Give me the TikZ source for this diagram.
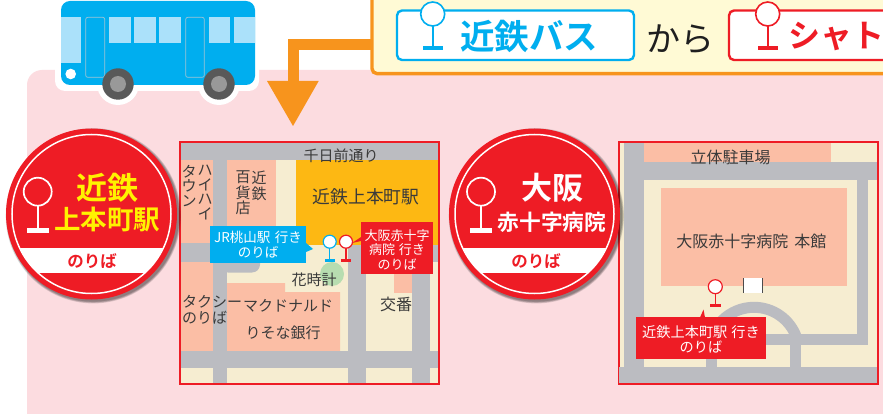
\documentclass[tikz,border=0pt]{standalone}
\usepackage{fontspec}
\newfontfamily\jp{Noto Sans CJK JP}
\newfontfamily\jpb{Noto Sans CJK JP Bold}
\definecolor{pinkbg}{HTML}{FCDCE0}
\definecolor{road}{HTML}{BBBCC1}
\definecolor{cream}{HTML}{F6EDD1}
\definecolor{salmon}{HTML}{FBBEA5}
\definecolor{station}{HTML}{FDB813}
\definecolor{busblue}{HTML}{00AEEF}
\definecolor{winblue}{HTML}{ABE1FA}
\definecolor{stopred}{HTML}{EE1C25}
\definecolor{orangeline}{HTML}{F7941D}
\definecolor{notebg}{HTML}{FFFAD5}
\definecolor{inktext}{HTML}{3A3A3A}
\definecolor{yellowtext}{HTML}{FFF200}
\definecolor{clockgreen}{HTML}{B7DDB0}
\newcommand{\sz}[1]{\fontsize{#1}{#1}\selectfont}
\tikzset{
  x=1pt,y=-1pt,
  mapframe/.style={draw=stopred,line width=2pt,fill=cream},
  roadfill/.style={fill=road},
  salmonfill/.style={fill=salmon},
  maptext/.style={inner sep=0pt,text=inktext,font=\jp\fontsize{15}{16}\selectfont,align=center},
  tagtext/.style={inner sep=0pt,text=white,font=\jp\fontsize{13.5}{15}\selectfont,align=center},
  window/.style={fill=winblue},
  doorbox/.style={draw=winblue!70!gray,line width=.7pt,fill=busblue,rounded corners=2pt},
  labelbox/.style={fill=white,line width=2.4pt,rounded corners=5pt},
}
\newcommand{\stopicon}[9]{%
  \draw[#4,line width=#6pt] (#1,#2+#3) -- (#1,#8);
  \fill[#4] (#1-#7,#8-#9/2) rectangle (#1+#7,#8+#9/2);
  \draw[#4,line width=#6pt,fill=#5] (#1,#2) circle[radius=#3pt];
}
\newcommand{\signdisc}[1]{%
  \foreach \rr in {87.6,87,86.4,85.8} \fill[black,opacity=.13] (#1+1.8,215.8) circle[radius=\rr pt];
  \fill[stopred] (#1,214) circle[radius=85.5pt];
  \begin{scope}
    \clip (#1,214) circle[radius=79.5pt];
    \fill[white] (#1-90,248) rectangle (#1+90,273);
  \end{scope}
  \draw[white,line width=1.5pt] (#1,214) circle[radius=79.5pt];
}
\begin{document}
\begin{tikzpicture}
\useasboundingbox (0,0) rectangle (883,414);
\fill[white] (0,0) rectangle (883,414);
\fill[pinkbg,rounded corners=15pt] (27,70) -- (27,430) -- (900,430) -- (900,70) -- cycle;

% bus
\fill[white,rounded corners=10pt] (55,-20) rectangle (259,91);
\foreach \wx in {118,219} \fill[white] (\wx,84) circle[radius=21pt];
\fill[busblue,rounded corners=9pt] (61,1) rectangle (255,85);
\fill[window] (61,17.3) rectangle (81,62.7);
\foreach \a/\b in {109/131,134.3/155.7,159/181,209/230.3,234.3/255}
  \fill[window] (\a,17.3) rectangle (\b,43);
\draw[doorbox] (85.7,17.3) rectangle (104.7,77.3);
\draw[doorbox] (185.7,17.3) rectangle (204.3,77.3);
\fill[white] (70.7,74) circle[radius=5.3pt];
\foreach \wx in {118,219} {
  \fill[black!65!white] (\wx,84) circle[radius=15.7pt];
  \fill[black!40!white] (\wx,84) circle[radius=8pt];
}

% notice box and its arrow
\draw[orangeline,fill=notebg,line width=3.4pt,rounded corners=5pt] (372,-20) rectangle (920,73.6);
\coordinate (noticeport) at (370.5,44.5);
\coordinate (arrowtop) at (293,82);
\draw[orangeline,line width=11pt] (noticeport) -| (arrowtop);
\fill[orangeline] (267,81) -- (318.7,81) -- (293,126) -- cycle;

% bus company label
\draw[busblue,labelbox] (397,10.5) rectangle (634,60);
\stopicon{432.7}{14}{12}{busblue}{white}{1.6}{10}{48}{4}
\node[inner sep=0pt,text=busblue,font=\jpb\sz{34.5}] (kintetsubus) at (529,36) {近鉄バス};
\node[inner sep=0pt,text=black!88,font=\jp\sz{34}] (kara) at (680,39.5) {から};
\draw[stopred,labelbox] (729,10.5) rectangle (930,60);
\stopicon{767.7}{14}{12}{stopred}{white}{1.6}{10}{48}{4}
\node[inner sep=0pt,anchor=west,text=stopred,font=\jpb\sz{32}] (shuttle) at (788,36) {シャトル};

% map 1
\draw[mapframe] (180,142) rectangle (438.5,384);
\fill[salmonfill] (181,160) rectangle (213,243);
\fill[salmonfill] (227,160) rectangle (276,243);
\fill[station] (296,160) rectangle (437.5,245);
\fill[salmonfill] (181,262) rectangle (213,351);
\fill[salmonfill] (227,283) -- (285,283) -- (285,292) -- (340,292) -- (340,351) -- (227,351) -- cycle;
\fill[salmonfill] (394,262) rectangle (412,293);
\fill[roadfill] (181,143) rectangle (437.5,160);
\fill[roadfill] (213,160) rectangle (227,383);
\fill[roadfill] (181,243) rectangle (213,262);
\fill[roadfill,rounded corners=8pt] (220,243) -- (260,243) -- (260,272.5) -- (220,272.5) -- cycle;
\fill[roadfill] (348,245) rectangle (366,383);
\fill[roadfill] (412,245) rectangle (430,383);
\fill[roadfill] (348,245) rectangle (437.5,262);
\fill[roadfill] (181,351) rectangle (437.5,368);
\fill[clockgreen] (332,274) circle[radius=12pt];

\node[maptext] (sennichimae) at (341,156) {千日前通り};
\node[maptext,font=\jp\fontsize{17.8}{18}\selectfont] (stationname) at (366,197) {近鉄上本町駅};
\node[maptext,font=\jp\fontsize{15}{14.5}\selectfont,anchor=north] (haihai) at (205,165) {ハ\\イ\\ハ\\イ};
\node[maptext,font=\jp\fontsize{15}{14.5}\selectfont,anchor=north] (town) at (189,165) {タ\\ウ\\ン};
\node[maptext,font=\jp\fontsize{15}{15.5}\selectfont,anchor=north] (kin) at (259,171) {近\\鉄};
\node[maptext,font=\jp\fontsize{15}{15.5}\selectfont,anchor=north] (dept) at (243,171) {百\\貨\\店};
\node[maptext,anchor=north west,align=left] (taxi) at (182,295) {タクシー\\のりば};
\node[maptext] (mcd) at (288,306) {マクドナルド};
\node[maptext] (resona) at (283,333) {りそな銀行};
\node[maptext] (clock) at (314,280) {花時計};
\node[maptext,font=\jp\sz{16}] (koban) at (396,304) {交番};

\fill[busblue] (306,243) -- (313,249) -- (306,252) -- cycle;
\fill[stopred] (361,237) -- (352,243) -- (361,241) -- cycle;
\stopicon{329.7}{241.7}{6.5}{busblue}{white}{1.2}{5}{260.5}{3}
\stopicon{346}{241.7}{6.5}{stopred}{white}{1.2}{5}{260.5}{3}
\node[fill=busblue,minimum width=96pt,minimum height=37pt,tagtext] (bluetag) at (258,244.5) {};
\node[tagtext] (bluetagtext) at (258,244.5) {JR桃山駅\kern4.5pt 行き\\のりば};
\node[fill=stopred,minimum width=72pt,minimum height=52pt,tagtext] (redtag) at (397,248) {};
\node[tagtext,font=\jp\fontsize{13}{14.5}\selectfont] (redtagtext) at (397,249.5) {大阪赤十字\\病院\kern4pt 行き\\のりば};

% map 2
\draw[mapframe] (618.5,142) rectangle (878,384);
\fill[salmonfill] (644,143) rectangle (831,162);
\fill[roadfill] (624,143) rectangle (644,368);
\fill[roadfill] (624,162) rectangle (877,180);
\fill[roadfill] (857,180) rectangle (868,345);
\fill[salmonfill] (661,188) rectangle (847,286);
\draw[road,line width=11pt] (709,352.3) arc[start angle=180,end angle=340,radius=45];
\fill[roadfill] (705.7,350) rectangle (716.7,368);
\fill[roadfill] (765,334) rectangle (868,345);
\fill[roadfill] (790,345) rectangle (801,368);
\fill[roadfill] (619,367) rectangle (877,383);
\fill[white] (743,278) rectangle (763,293);
\draw[black!70,line width=1.5pt] (743.7,278) -- (743.7,293) (762.3,278) -- (762.3,293);

\node[maptext,font=\jp\sz{16}] (parking) at (730.7,157) {立体駐車場};
\node[maptext,font=\jp\sz{16}] (mainbldg) at (751.3,241.7) {大阪赤十字病院\kern6pt 本館};

\stopicon{715.3}{286.7}{7}{stopred}{white}{1.2}{5.5}{305.5}{3}
\fill[stopred] (700,317.5) -- (703.5,309.5) -- (705,317.5) -- cycle;
\node[fill=stopred,minimum width=130pt,minimum height=42pt,tagtext] (redtag2) at (701,338) {};
\node[tagtext,font=\jp\fontsize{14.2}{15}\selectfont] (redtag2text) at (701,339.5) {近鉄上本町駅\kern4pt 行き\\のりば};

% round signs
\signdisc{91.5}
\stopicon{37.7}{191.7}{14}{white}{stopred}{1.7}{10.8}{230.5}{5}
\node[inner sep=0pt,text=yellowtext,font=\jpb\sz{31}] (s1a) at (107,188) {近鉄};
\node[inner sep=0pt,text=yellowtext,font=\jpb\sz{26.5}] (s1b) at (107,219) {上本町駅};
\node[inner sep=0pt,text=stopred,font=\jpb\sz{16.5}] (s1c) at (92,261.5) {のりば};

\signdisc{534.5}
\stopicon{481}{191.7}{14}{white}{stopred}{1.7}{10.8}{230.5}{5}
\node[inner sep=0pt,text=white,font=\jpb\sz{31}] (s2a) at (552,188) {大阪};
\node[inner sep=0pt,text=white,font=\jpb\sz{21.7}] (s2b) at (552,222) {赤十字病院};
\node[inner sep=0pt,text=stopred,font=\jpb\sz{16.5}] (s2c) at (536,261) {のりば};
\end{tikzpicture}
\end{document}
